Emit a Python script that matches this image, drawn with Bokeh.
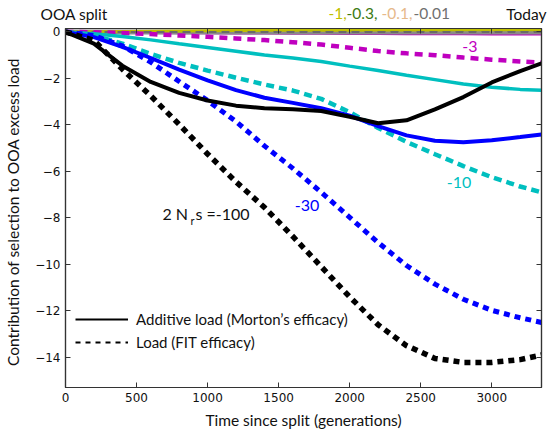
from bokeh.plotting import figure
from bokeh.layouts import column
from bokeh.models import (Range1d, LinearAxis, FixedTicker, Label, Legend, LegendItem,
                          ColumnDataSource)
from bokeh.embed import file_html
from bokeh.resources import INLINE

# ---------------- data ----------------
t = [0, 200, 400, 600, 800, 1000, 1200, 1400, 1600, 1800, 2000, 2200, 2400, 2600, 2800, 3000, 3200, 3350]

# additive load (Morton's efficacy), solid
add_100 = [0, -0.50, -1.45, -2.15, -2.62, -2.95, -3.17, -3.28, -3.33, -3.40, -3.65, -3.93, -3.80, -3.33, -2.80, -2.17, -1.68, -1.35]
add_30 = [0, -0.22, -0.64, -1.12, -1.62, -2.08, -2.50, -2.83, -3.05, -3.28, -3.60, -4.05, -4.45, -4.68, -4.75, -4.66, -4.52, -4.41]
add_10 = [0, -0.08, -0.19, -0.34, -0.51, -0.67, -0.83, -0.99, -1.12, -1.27, -1.47, -1.66, -1.86, -2.05, -2.24, -2.38, -2.47, -2.51]
add_3 = [0, -0.005, -0.01, -0.015, -0.02, -0.025, -0.03, -0.035, -0.04, -0.045, -0.05, -0.055, -0.06, -0.065, -0.07, -0.075, -0.08, -0.08]

# load (FIT efficacy), dashed
fit_100 = [0, -0.36, -1.60, -2.75, -3.98, -5.25, -6.45, -7.55, -8.80, -10.10, -11.40, -12.60, -13.50, -14.05, -14.22, -14.22, -14.10, -13.90]
fit_30 = [0, -0.15, -0.60, -1.30, -2.13, -2.95, -3.85, -4.90, -5.87, -6.90, -7.98, -9.06, -10.05, -10.85, -11.50, -11.98, -12.30, -12.50]
fit_10 = [0, -0.15, -0.50, -0.94, -1.33, -1.66, -1.97, -2.26, -2.52, -2.88, -3.45, -4.13, -4.73, -5.26, -5.77, -6.25, -6.65, -6.90]
fit_3 = [0, -0.01, -0.04, -0.09, -0.15, -0.21, -0.28, -0.35, -0.44, -0.54, -0.68, -0.82, -0.92, -1.00, -1.10, -1.19, -1.27, -1.32]

# weak selection (near zero)
weak_1 = [0, 0.01, 0.02, 0.03, 0.04, 0.05, 0.06, 0.07, 0.07, 0.08, 0.08, 0.09, 0.09, 0.09, 0.10, 0.10, 0.10, 0.10]
weak_03 = [0, 0.005, 0.01, 0.015, 0.02, 0.025, 0.03, 0.035, 0.04, 0.04, 0.045, 0.045, 0.05, 0.05, 0.05, 0.05, 0.05, 0.05]
weak_01 = [0, 0.002, 0.004, 0.006, 0.008, 0.01, 0.012, 0.014, 0.016, 0.018, 0.02, 0.02, 0.02, 0.02, 0.02, 0.02, 0.02, 0.02]
weak_001 = [0, 0.0, 0.0, 0.0, 0.0, 0.0, 0.0, 0.0, 0.0, 0.0, 0.0, 0.0, 0.0, 0.0, 0.0, 0.0, 0.0, 0.0]

x_ticks = [0, 500, 1000, 1500, 2000, 2500, 3000]
y_ticks = [0, -2, -4, -6, -8, -10, -12, -14]
y_tick_labels = {v: ("0" if v == 0 else "\u2212" + str(-v)) for v in y_ticks}
weak_labels = ["-1,", "-0.3,", "-0.1,", "-0.01"]

# ---------------- styles ----------------
BLACK, BLUE, CYAN, MAG = "#000000", "#0000ff", "#00bfbf", "#bf00bf"
OLIVE, GREEN, TAN, GRAY = "#bfbf00", "#3d7a12", "#e6b98a", "#8a8a8a"
LBL_FONT = "Lato"
TICK_FONT = "DejaVu Sans"
W, H, HEAD = 548, 437, 24
BL, BR, BB, BT = 65, 7, 50, 4

# ---------------- header strip (texts above the axes box) ----------------
hdr = figure(width=W, height=HEAD, output_backend="svg", toolbar_location=None, title=None,
             x_axis_location=None, y_axis_location=None,
             x_range=Range1d(0, W), y_range=Range1d(0, HEAD),
             min_border_left=0, min_border_right=0, min_border_top=0, min_border_bottom=0)
hdr.frame_align = False
hdr.outline_line_color = None
hdr.grid.visible = False
hdr.border_fill_color = "white"

def head_lab(px, text, color, align="left"):
    hdr.add_layout(Label(x=px, y=HEAD - 13, text=text, text_color=color, text_font=LBL_FONT,
                         text_font_size="15.5px", text_align=align, text_baseline="middle"))

head_lab(40, "OOA split", "#111111")
head_lab(W - 2, "Today", "#111111", align="right")
for px, txt, col in zip([328, 346, 381, 413], weak_labels, [OLIVE, GREEN, TAN, "#707070"]):
    head_lab(px, txt, col)

# ---------------- main plot ----------------
p = figure(width=W, height=H - HEAD, output_backend="svg", toolbar_location=None, title=None,
           x_range=Range1d(0, 3350), y_range=Range1d(-15.3, 0.15),
           min_border_left=BL, min_border_right=BR, min_border_top=BT, min_border_bottom=BB,
           x_axis_label="Time since split (generations)",
           y_axis_label="Contribution of selection  to  OOA excess load")
p.frame_align = False
p.grid.visible = False
p.outline_line_color = "#333333"
p.outline_line_width = 1.2
p.background_fill_color = "white"
p.border_fill_color = "white"

xb = p.below[0]
yl = p.left[0]
xb.ticker = FixedTicker(ticks=x_ticks)
yl.ticker = FixedTicker(ticks=y_ticks)
yl.major_label_overrides = y_tick_labels

top = LinearAxis(ticker=FixedTicker(ticks=x_ticks),
                 major_label_overrides={v: "" for v in x_ticks}, major_label_standoff=0)
right = LinearAxis(ticker=FixedTicker(ticks=y_ticks),
                   major_label_overrides={v: "" for v in y_ticks}, major_label_standoff=0)
p.add_layout(top, "above")
p.add_layout(right, "right")

for ax in [xb, yl, top, right]:
    ax.major_tick_in = 5
    ax.major_tick_out = 0
    ax.minor_tick_line_color = None
    ax.axis_line_color = "#333333"
    ax.axis_line_width = 1.2
    ax.major_tick_line_color = "#333333"
    ax.major_label_text_font = TICK_FONT
    ax.major_label_text_font_size = "12px"
    ax.major_label_text_color = "#111111"
for ax in [xb, yl]:
    ax.major_label_standoff = 5
    ax.axis_label_text_font = LBL_FONT
    ax.axis_label_text_font_style = "normal"
    ax.axis_label_text_font_size = "15.5px"
    ax.axis_label_text_color = "#111111"
xb.axis_label_standoff = 6
yl.axis_label_standoff = 10

src = ColumnDataSource(dict(t=t, a100=add_100, a30=add_30, a10=add_10, a3=add_3,
                            f100=fit_100, f30=fit_30, f10=fit_10, f3=fit_3,
                            w1=weak_1, w03=weak_03, w01=weak_01, w001=weak_001))

# near-zero curves
p.line("t", "a3", source=src, line_color=MAG, line_width=3.5)
p.line("t", "w001", source=src, line_color=GRAY, line_width=5)
p.line("t", "w01", source=src, line_color=TAN, line_width=2, line_dash="8 5")
p.line("t", "w03", source=src, line_color=GREEN, line_width=2, line_dash="8 5")
p.line("t", "w1", source=src, line_color=OLIVE, line_width=3)
p.line("t", "w001", source=src, line_color="#6a6a6a", line_width=2, line_dash="8 5")

# main curves
p.line("t", "f3", source=src, line_color=MAG, line_width=4.5, line_dash="8 6")
p.line("t", "a10", source=src, line_color=CYAN, line_width=3.5)
p.line("t", "f10", source=src, line_color=CYAN, line_width=4.5, line_dash="8 5")
p.line("t", "a30", source=src, line_color=BLUE, line_width=4)
p.line("t", "f30", source=src, line_color=BLUE, line_width=5, line_dash="6 5")
p.line("t", "a100", source=src, line_color=BLACK, line_width=4)
p.line("t", "f100", source=src, line_color=BLACK, line_width=5.5, line_dash="6 5")

# legend (style keys)
nan = float("nan")
r_solid = p.line([nan], [nan], line_color=BLACK, line_width=2)
r_dash = p.line([nan], [nan], line_color=BLACK, line_width=2, line_dash="5 5")
leg = Legend(items=[LegendItem(label="Additive load (Morton\u2019s efficacy)", renderers=[r_solid]),
                    LegendItem(label="Load (FIT efficacy)", renderers=[r_dash])],
             location=(10, 35), glyph_width=53, glyph_height=20, label_height=20,
             label_standoff=8, spacing=3, padding=0, margin=0,
             border_line_color=None, background_fill_alpha=0,
             label_text_font=LBL_FONT, label_text_font_size="15px", label_text_color="#111111")
p.add_layout(leg)

# in-plot annotations
def lab(x, y, text, color, size="16px", align="left", baseline="middle", yoff=0):
    p.add_layout(Label(x=x, y=y, text=text, text_color=color, text_font=LBL_FONT,
                       text_font_size=size, text_align=align, text_baseline=baseline,
                       y_offset=yoff))

lab(2846, -0.62, "-3", MAG, align="center")
lab(2769, -6.48, "-10", CYAN, align="center")
lab(1700, -7.47, "-30", BLUE, align="center")
lab(682, -7.82, "2 N", "#111111")
lab(880, -7.82, "r", "#111111", size="11px", yoff=-7)
lab(915, -7.82, "s =-100", "#111111")

layout = column(hdr, p, spacing=0)
open("out.html", "w").write(file_html(layout, INLINE))
